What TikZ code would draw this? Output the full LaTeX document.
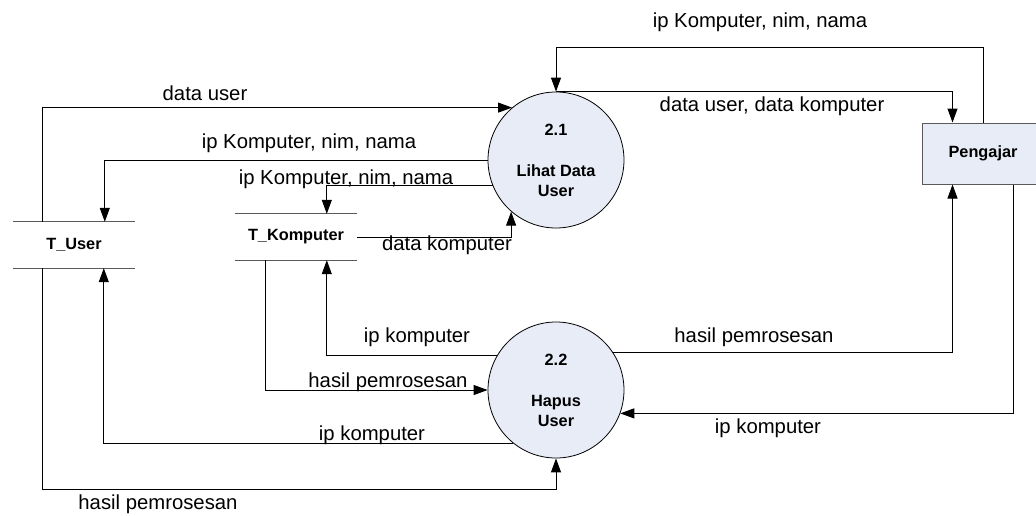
\documentclass[tikz,border=0pt]{standalone}
\usepackage{fontspec}
\setmainfont{Liberation Sans}
\usepackage{tikz}
\usepackage{xcolor}
\usetikzlibrary{shapes,arrows.meta,calc}
\definecolor{procfill}{RGB}{231, 236, 247}
\definecolor{storeline}{RGB}{90, 90, 90}
\tikzstyle{flow} = [
    line width=1pt,
    -{Triangle[length=14pt,width=10pt]},
    draw=black
]
\tikzstyle{process} = [
    circle,
    minimum size=136pt,
    inner sep=0pt,
    draw=black,
    line width=0.8pt,
    fill=procfill,
    align=center,
    font=\fontsize{16.3}{20}\selectfont\bfseries
]
\tikzstyle{entity} = [
    rectangle,
    minimum width=122pt,
    minimum height=61pt,
    draw=storeline,
    line width=1pt,
    fill=procfill,
    font=\fontsize{16.3}{20}\selectfont\bfseries
]
\tikzstyle{store} = [
    rectangle,
    minimum width=122pt,
    minimum height=46pt,
    inner sep=0pt,
    font=\fontsize{16.3}{20}\selectfont\bfseries
]
\tikzstyle{flowlabel} = [
    inner sep=0pt,
    text height=14.6pt,
    text depth=4.3pt,
    font=\fontsize{20.3}{24}\selectfont
]

\begin{document}
\begin{tikzpicture}[x=1pt, y=-1pt]
    \useasboundingbox (0,0) rectangle (1036,515);

    % processes, entity and data stores
    \node[process] (p21) at (556,160) {2.1\\[21pt]Lihat Data\\User};
    \node[process] (p22) at (556,390) {2.2\\[21pt]Hapus\\User};
    \node[entity] (peng) at (983,153.5) {Pengajar};
    \node[store] (tuser) at (74,245) {T\_User};
    \node[store] (tkomp) at (296,237) {T\_Komputer};
    \foreach \s in {tuser,tkomp}
        \draw[storeline, line width=1pt] (\s.north west) -- (\s.north east)
            (\s.south west) -- (\s.south east);

    % ports and rows
    \coordinate (toprow) at (0,47);
    \coordinate (bottomrow) at (0,489);
    \coordinate (tuserout) at ($(tuser.south west)+(30,0)$);

    % flows of Lihat Data User
    \draw[flow] ($(tuser.north west)+(30,0)$) |- (p21.130);
    \draw[flow] (p21.180) -| ($(tuser.north west)+(92,0)$);
    \draw[flow] (p21.202) -| ($(tkomp.north west)+(92,0)$);
    \draw[flow] (tkomp.east) -| (p21.229);
    \draw[flow] (peng.north) -- (peng.north |- toprow) -| (p21.north);
    \draw[flow] (p21.north) -| ($(peng.north west)+(31,0)$);

    % flows of Hapus User
    \draw[flow] (p22.33) -| ($(peng.south west)+(31,0)$);
    \draw[flow] ($(peng.south west)+(92,0)$) |- (p22.-20);
    \draw[flow] (p22.150) -| ($(tkomp.south west)+(92,0)$);
    \draw[flow] ($(tkomp.south west)+(31,0)$) |- (p22.west);
    \draw[flow] (p22.231) -| ($(tuser.south west)+(91,0)$);
    \draw[flow] (tuserout) -- (tuserout |- bottomrow) -| (p22.south);

    % flow labels
    \node[flowlabel] (ldatauser) at (205,95) {data user};
    \node[flowlabel] (lipuser) at (309,143) {ip Komputer, nim, nama};
    \node[flowlabel] (lipkomp) at (346,179) {ip Komputer, nim, nama};
    \node[flowlabel] (ldatakomp) at (447,245) {data komputer};
    \node[flowlabel] (lippeng) at (760,22) {ip Komputer, nim, nama};
    \node[flowlabel] (ldatapeng) at (772,106) {data user, data komputer};
    \node[flowlabel] (lhasilpeng) at (754,337) {hasil pemrosesan};
    \node[flowlabel] (lipkomppeng) at (768,428) {ip komputer};
    \node[flowlabel] (lipkompdel) at (417,337) {ip komputer};
    \node[flowlabel] (lhasilkomp) at (388,382) {hasil pemrosesan};
    \node[flowlabel] (lipuserdel) at (372,435) {ip komputer};
    \node[flowlabel] (lhasiluser) at (158,504) {hasil pemrosesan};
\end{tikzpicture}
\end{document}
